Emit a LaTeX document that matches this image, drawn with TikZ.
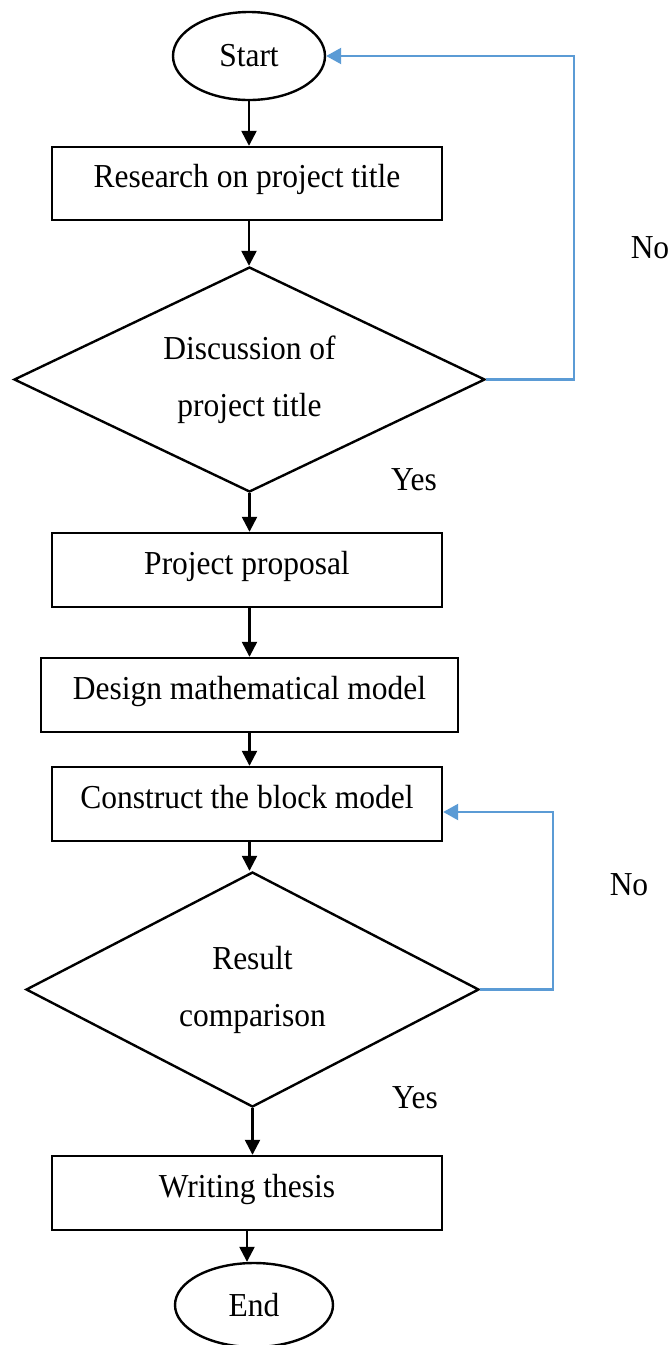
\documentclass[tikz,border=0pt]{standalone}
\usepackage{fontspec}
\setmainfont{Liberation Serif}[FakeStretch=0.94]
\usetikzlibrary{shapes.geometric,arrows.meta}
\definecolor{loopblue}{RGB}{91,155,213}
\begin{document}
\begin{tikzpicture}[x=1pt,y=-1pt,
  every node/.style={font=\fontsize{33.5}{40}\selectfont},
  box/.style={draw,line width=2.4pt,rectangle,inner sep=0pt,text height=24pt,text depth=16pt},
  term/.style={draw,ellipse,line width=2.4pt,inner sep=0pt},
  decision/.style={draw,diamond,line width=2.4pt,inner sep=0pt,align=center,shape aspect=2.1,font=\fontsize{33.5}{57}\selectfont},
  arr/.style={line width=2.4pt,-{Triangle[length=15pt,width=15pt]}},
  back/.style={line width=2.2pt,draw=loopblue,-{Triangle[length=15pt,width=16pt,fill=loopblue]}},
  lbl/.style={inner sep=0pt}]
\useasboundingbox (0,0) rectangle (672,1345);
\fill[white] (0,0) rectangle (672,1345);

\node[term,minimum width=152pt,minimum height=88pt] (st) at (249,56) {Start};
\node[box,minimum width=390pt,minimum height=73pt] (r1) at (247,183.5) {Research on project title};
\node[decision,minimum width=471pt,minimum height=225pt] (d1) at (249.5,379.5) {Discussion of\\project title};
\node[box,minimum width=390pt,minimum height=74pt] (r2) at (247,570) {Project proposal};
\node[box,minimum width=417pt,minimum height=74pt] (r3) at (249.5,695) {Design mathematical model};
\node[box,minimum width=390pt,minimum height=74pt] (r4) at (247,804) {Construct the block model};
\node[decision,minimum width=453pt,minimum height=235pt] (d2) at (252.5,989.5) {Result\\comparison};
\node[box,minimum width=390pt,minimum height=74pt] (r5) at (247,1193) {Writing thesis};
\node[term,minimum width=158pt,minimum height=84pt] (en) at (254,1305) {End};

\node[lbl] (no1) at (650,248) {No};
\node[lbl] (yes1) at (414,480) {Yes};
\node[lbl] (no2) at (629,885) {No};
\node[lbl] (yes2) at (415,1098) {Yes};

\draw[arr] (st.south) -- (st.south |- r1.north);
\draw[arr] (st.south |- r1.south) -- (st.south |- d1.north);
\draw[arr] (d1.south) -- (d1.south |- r2.north);
\draw[arr] (d1.south |- r2.south) -- (d1.south |- r3.north);
\draw[arr] (d1.south |- r3.south) -- (d1.south |- r4.north);
\draw[arr] (d1.south |- r4.south) -- (d1.south |- d2.north);
\draw[arr] (d2.south) -- (d2.south |- r5.north);
\draw[arr] (r5.south) -- (r5.south |- en.north);

\coordinate (c1) at (574,0);
\coordinate (c2) at (553,0);
\coordinate (r4in) at ([yshift=-8pt]r4.east);
\draw[back] (d1.east) -- (d1.east -| c1) -- (c1 |- st.east) -- (st.east);
\draw[back] (d2.east) -- (d2.east -| c2) -- (c2 |- r4in) -- (r4in);
\end{tikzpicture}
\end{document}
